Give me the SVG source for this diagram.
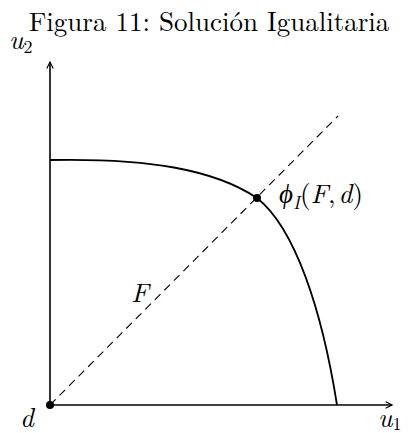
<svg xmlns="http://www.w3.org/2000/svg" width="418" height="433" viewBox="0 0 418 433">
<defs>
<marker id="arr" viewBox="0 0 10 10" refX="9" refY="5" markerWidth="8" markerHeight="8" markerUnits="userSpaceOnUse" orient="auto">
<path d="M1,1 L9,5 L1,9" fill="none" stroke="#000" stroke-width="1.4"/>
</marker>
<style>
.t{font-family:"Latin Modern Roman","Liberation Serif","DejaVu Serif",serif;fill:#000}
.m{font-style:italic}
.ax{stroke:#000;stroke-width:1.6;fill:none}
</style>
</defs>
<rect width="418" height="433" fill="#fff"/>
<text class="t" x="209" y="31" font-size="27" text-anchor="middle">Figura 11: Solución Igualitaria</text>
<g id="connectors">
<line class="ax" x1="50" y1="405" x2="50" y2="62" marker-end="url(#arr)"/>
<line class="ax" x1="50" y1="405" x2="392" y2="405" marker-end="url(#arr)"/>
<line x1="50" y1="405" x2="338" y2="116" stroke="#000" stroke-width="1.1" stroke-dasharray="8,5.5"/>
<path d="M50,160 C150,158 215,170 257,198 C295,228 322,310 337,405" fill="none" stroke="#000" stroke-width="1.8"/>
</g>
<g id="d"><circle cx="50" cy="405" r="4"/><text class="t m" x="20" y="427" font-size="27">d</text></g>
<g id="phi"><circle cx="257" cy="198" r="4"/><text class="t m" x="279" y="203" font-size="27">ϕ<tspan font-size="18" dy="6">I</tspan><tspan dy="-6" font-style="normal">(</tspan>F<tspan font-style="normal">,</tspan><tspan dx="3">d</tspan><tspan font-style="normal">)</tspan></text></g>
<g id="F"><text class="t m" x="131" y="302" font-size="27">F</text></g>
<g id="u2"><text class="t m" x="9" y="49" font-size="27">u<tspan font-style="normal" font-size="18" dy="4">2</tspan></text></g>
<g id="u1"><text class="t m" x="378" y="427" font-size="27">u<tspan font-style="normal" font-size="18" dy="3">1</tspan></text></g>
</svg>
